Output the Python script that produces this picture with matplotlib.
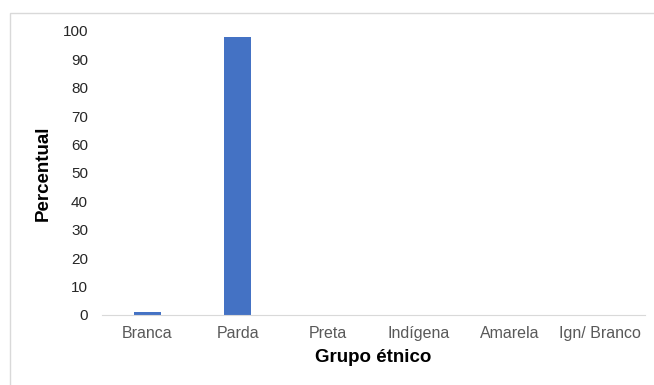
import matplotlib.pyplot as plt
from matplotlib.patches import Rectangle

# Percentual por grupo étnico
grupos = ["Branca", "Parda", "Preta", "Indígena", "Amarela", "Ign/ Branco"]
percentual = [1.0, 98.0, 0.0, 0.0, 0.0, 0.0]

plt.rcParams['font.family'] = ['Liberation Sans', 'DejaVu Sans']

fig = plt.figure(figsize=(6.54, 3.85), dpi=100)
fig.patches.append(Rectangle((9.5 / 654, -0.01), 1.0, 1 - 12.5 / 385 + 0.01,
                             transform=fig.transFigure, fill=False,
                             edgecolor='#d9d9d9', linewidth=1))

ax = fig.add_axes([102 / 654, 70 / 385, 543 / 654, 284 / 385])
x = range(len(grupos))
ax.bar(x, percentual, width=0.3, color='#4472C4')

ax.set_xlim(-0.5, len(grupos) - 0.5)
ax.set_ylim(0, 100)
ax.set_yticks(range(0, 101, 10))
ax.set_xticks(list(x))
ax.set_xticklabels(grupos)

for side in ['top', 'right', 'left']:
    ax.spines[side].set_visible(False)
ax.spines['bottom'].set_color('#d9d9d9')
ax.tick_params(axis='both', length=0)
ax.tick_params(axis='y', labelsize=11, colors='#262626', pad=10)
ax.tick_params(axis='x', labelsize=11.5, colors='#595959', pad=8)

ax.set_ylabel('Percentual', fontsize=13.5, fontweight='bold', va='center')
ax.set_xlabel('Grupo étnico', fontsize=13.5, fontweight='bold', va='center')
ax.yaxis.set_label_coords(-59 / 543, 0.5)
ax.xaxis.set_label_coords(0.5, -43 / 284)

fig.savefig('out.png', dpi=100)
